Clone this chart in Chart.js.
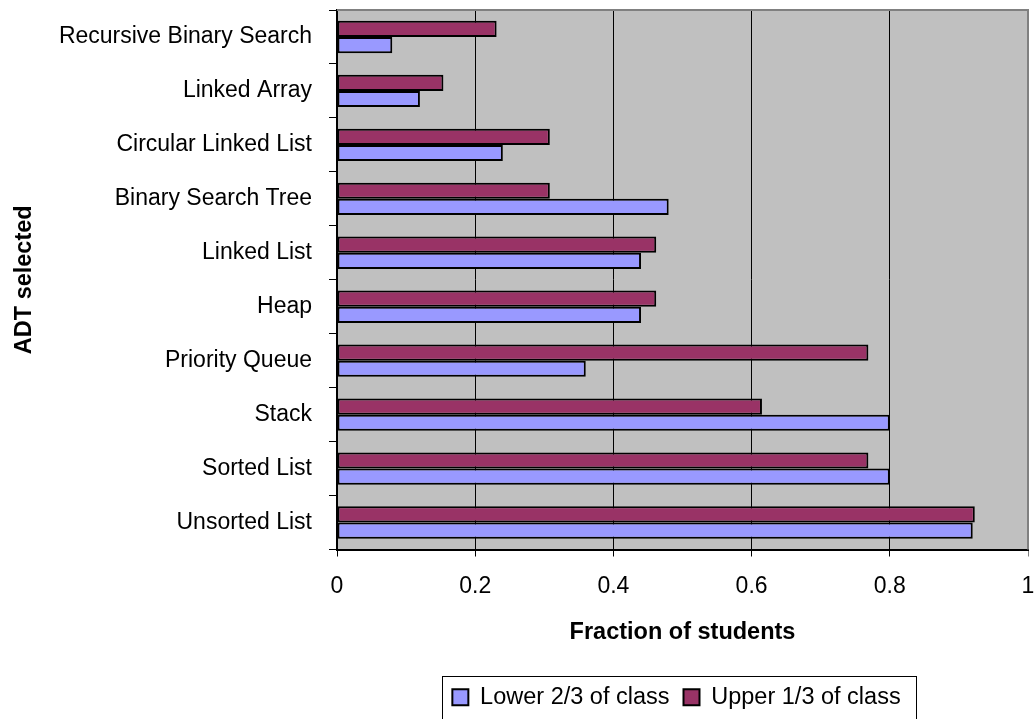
<!DOCTYPE html>
<html>
<head>
<meta charset="utf-8">
<script src="https://cdn.jsdelivr.net/npm/chart.js@4.4.1/dist/chart.umd.min.js"></script>
<style>
    html, body { margin: 0; padding: 0; background: #fff; }
    #chart-container { width: 1036px; height: 719px; }
</style>
</head>
<body>
<div id="chart-container"><canvas id="chart"></canvas></div>
<script>
// categories top to bottom
const categories = [
    'Recursive Binary Search', 'Linked Array', 'Circular Linked List', 'Binary Search Tree',
    'Linked List', 'Heap', 'Priority Queue', 'Stack', 'Sorted List', 'Unsorted List'
];
const upperThird = [0.231, 0.154, 0.308, 0.308, 0.462, 0.462, 0.769, 0.615, 0.769, 0.923];
const lowerTwoThirds = [0.08, 0.12, 0.24, 0.48, 0.44, 0.44, 0.36, 0.80, 0.80, 0.92];
const xTicks = [0, 0.2, 0.4, 0.6, 0.8, 1];

const FONT = "'Liberation Sans', Arial, sans-serif";

// grey plot area + grey frame like the old Excel chart
const plotArea = {
    id: 'plotArea',
    beforeDraw(chart) {
        const a = chart.chartArea, ctx = chart.ctx;
        ctx.save();
        ctx.fillStyle = '#C0C0C0';
        ctx.fillRect(a.left, a.top, a.right - a.left, a.bottom - a.top);
        ctx.restore();
    },
    beforeDatasetsDraw(chart) {
        const a = chart.chartArea, ctx = chart.ctx;
        ctx.save();
        ctx.strokeStyle = '#808080';
        ctx.lineWidth = 2;
        ctx.beginPath();
        ctx.moveTo(a.left, a.top);
        ctx.lineTo(a.right, a.top);
        ctx.lineTo(a.right, a.bottom);
        ctx.stroke();
        ctx.restore();
    }
};

// centre the legend under the plot area and put a box round it
const legendFrame = {
    id: 'legendFrame',
    afterLayout(chart) {
        chart.legend.left = chart.chartArea.left;
        chart.legend.right = chart.chartArea.right - 12;
    },
    afterDraw(chart) {
        const boxes = chart.legend.legendHitBoxes;
        if (!boxes || !boxes.length) return;
        let l = Infinity, r = -Infinity, t = Infinity, b = -Infinity;
        boxes.forEach(h => {
            l = Math.min(l, h.left); r = Math.max(r, h.left + h.width);
            t = Math.min(t, h.top); b = Math.max(b, h.top + h.height);
        });
        const ctx = chart.ctx;
        ctx.save();
        ctx.strokeStyle = '#000';
        ctx.lineWidth = 1;
        ctx.strokeRect(Math.round(l - 10) + 0.5, Math.round(t - 10) + 0.5, Math.round(r - l + 26), Math.round(b - t + 20));
        ctx.restore();
    }
};

new Chart(document.getElementById('chart'), {
    type: 'bar',
    data: {
        labels: categories,
        datasets: [
            {
                label: 'Upper 1/3 of class',
                data: upperThird,
                backgroundColor: '#993366',
                borderColor: '#000',
                borderWidth: 2,
                borderSkipped: false
            },
            {
                label: 'Lower 2/3 of class',
                data: lowerTwoThirds,
                backgroundColor: '#9999FF',
                borderColor: '#000',
                borderWidth: 2,
                borderSkipped: false
            }
        ]
    },
    options: {
        indexAxis: 'y',
        responsive: true,
        maintainAspectRatio: false,
        animation: false,
        datasets: { bar: { categoryPercentage: 0.6, barPercentage: 1.0 } },
        layout: { padding: { top: 10, right: 8, left: 0, bottom: 0 } },
        plugins: {
            title: { display: false },
            tooltip: { enabled: false },
            legend: {
                position: 'bottom',
                reverse: true,
                labels: {
                    color: '#000',
                    font: { family: FONT, size: 23.5 },
                    boxWidth: 16,
                    boxHeight: 16,
                    padding: 14
                }
            }
        },
        scales: {
            x: {
                min: 0,
                max: 1,
                afterBuildTicks(axis) { axis.ticks = xTicks.map(v => ({ value: v })); },
                afterFit(axis) {
                    axis.height = 122;
                    axis.paddingLeft = 0;
                    axis.paddingRight = 0;
                },
                ticks: {
                    color: '#000',
                    font: { family: FONT, size: 23 },
                    padding: 16,
                    callback: v => String(v)
                },
                grid: {
                    color: ctx => (ctx.tick && ctx.tick.value === 1 ? '#808080' : '#000'),
                    lineWidth: 1,
                    tickLength: 7
                },
                border: { display: true, color: '#000', width: 2 },
                title: {
                    display: true,
                    text: 'Fraction of students',
                    color: '#000',
                    font: { family: FONT, size: 23.5, weight: 'bold' },
                    padding: { top: 10, bottom: 25 }
                }
            },
            y: {
                afterFit(axis) {
                    axis.width = 337;
                    axis.paddingTop = 0;
                    axis.paddingBottom = 0;
                },
                ticks: {
                    color: '#000',
                    font: { family: FONT, size: 23 },
                    padding: 17
                },
                grid: {
                    drawOnChartArea: false,
                    color: '#000',
                    tickLength: 8
                },
                border: { display: true, color: '#000', width: 2 },
                title: {
                    display: true,
                    text: 'ADT selected',
                    color: '#000',
                    font: { family: FONT, size: 23.5, weight: 'bold' },
                    padding: { top: 10, bottom: 6 }
                }
            }
        }
    },
    plugins: [plotArea, legendFrame]
});
</script>
</body>
</html>
